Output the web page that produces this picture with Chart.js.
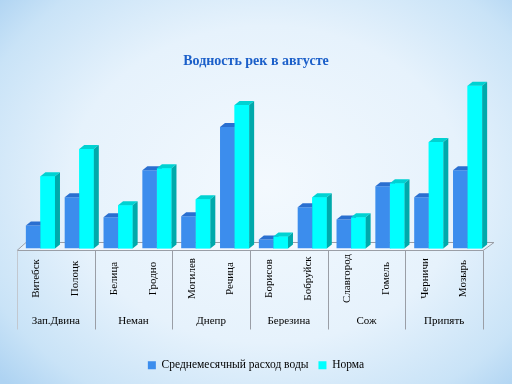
<!DOCTYPE html>
<html>
<head>
<meta charset="utf-8">
<script src="https://cdn.jsdelivr.net/npm/chart.js@4.4.0/dist/chart.umd.min.js"></script>
<style>
  html, body { margin: 0; padding: 0; }
  body {
    width: 512px; height: 384px; overflow: hidden;
    background: radial-gradient(ellipse 70% 75% at 52% 48%, #f3f9fe 0%, #e6f2fc 55%, #c9e3f7 85%, #aed3f2 100%);
  }
  canvas { display: block; }
</style>
</head>
<body>
<canvas id="chart" width="512" height="384"></canvas>
<script>
/* ---------- Данные ---------- */
const GORODA = ["Витебск", "Полоцк", "Белица", "Гродно", "Могилев", "Речица",
  "Борисов", "Бобруйск", "Славгород", "Гомель", "Черничи", "Мозырь"];
const REKI = ["Зап.Двина", "Неман", "Днепр", "Березина", "Сож", "Припять"];
const RASHOD = [23, 51, 31, 78, 32, 121, 9, 41, 29, 62, 51, 78];
const NORMA = [72, 99, 43, 80, 49, 143, 12, 51, 31, 65, 106, 162];

const COR = {
  blue: "#3c8ded",
  blueTop: "#2a6fd0",
  blueSide: "#1f5cbe",
  cyan: "#00ffff",
  cyanTop: "#00d2d2",
  cyanSide: "#00a9ab",
  line: "#9a9ea6",
  lineLight: "#c2c8d0",
  text: "#000000",
  title: "#1b5fc9",
};
const DX = 5, DY = 4; // глубина 3D у баров
const SHIFT = 4;      // бары стоят в глубине пола

/* ---------- 3D-бары ---------- */
function faces(ctx, el, top, side) {
  const l = el.x - el.width / 2, r = el.x + el.width / 2;
  ctx.fillStyle = top;
  ctx.beginPath();
  ctx.moveTo(l, el.y); ctx.lineTo(l + DX, el.y - DY);
  ctx.lineTo(r + DX, el.y - DY); ctx.lineTo(r, el.y);
  ctx.closePath(); ctx.fill();
  ctx.fillStyle = side;
  ctx.beginPath();
  ctx.moveTo(r, el.y); ctx.lineTo(r + DX, el.y - DY);
  ctx.lineTo(r + DX, el.base - DY); ctx.lineTo(r, el.base);
  ctx.closePath(); ctx.fill();
}

const bar3d = {
  id: "bar3d",
  beforeDatasetsDraw(chart) {
    // пол
    const { ctx, chartArea: a } = chart;
    const y = a.bottom + 2;
    const l = a.left - SHIFT, r = a.right - SHIFT;
    ctx.save();
    ctx.fillStyle = "rgba(255,255,255,0.35)";
    ctx.strokeStyle = COR.line;
    ctx.lineWidth = 1;
    ctx.beginPath();
    ctx.moveTo(l, y); ctx.lineTo(l + 9, y - 8);
    ctx.lineTo(r + 11, y - 8); ctx.lineTo(r, y);
    ctx.closePath(); ctx.fill(); ctx.stroke();
    ctx.restore();
  },
  afterDatasetsDraw(chart) {
    const ctx = chart.ctx;
    const m0 = chart.getDatasetMeta(0), m1 = chart.getDatasetMeta(1);
    ctx.save();
    m0.data.forEach((el) => faces(ctx, el, COR.blueTop, COR.blueSide));
    m1.data.forEach((el) => {
      el.draw(ctx);
      faces(ctx, el, COR.cyanTop, COR.cyanSide);
    });
    ctx.restore();
  },
  afterDraw(chart) {
    const { ctx, chartArea: a, scales } = chart;
    const x = scales.x;
    const y0 = a.bottom + 2;
    const px = (i) => x.getPixelForValue(i) - SHIFT;
    ctx.save();
    ctx.lineWidth = 1;
    // границы групп
    const bounds = [a.left - SHIFT];
    for (let g = 1; g < REKI.length; g++) {
      bounds.push((px(g * 2 - 1) + px(g * 2)) / 2);
    }
    bounds.push(a.right - SHIFT);
    bounds.forEach((bx, i) => {
      ctx.strokeStyle = i === 0 ? COR.lineLight : COR.line;
      ctx.beginPath();
      ctx.moveTo(Math.round(bx) + 0.5, y0);
      ctx.lineTo(Math.round(bx) + 0.5, y0 + 79);
      ctx.stroke();
    });
    ctx.fillStyle = COR.text;
    ctx.font = "11px 'Liberation Serif', 'Times New Roman', serif";
    ctx.textAlign = "center";
    ctx.textBaseline = "middle";
    // города (вертикально)
    GORODA.forEach((g, i) => {
      ctx.save();
      ctx.translate(px(i), y0 + 28);
      ctx.rotate(-Math.PI / 2);
      ctx.fillText(g, 0, 0);
      ctx.restore();
    });
    // реки
    REKI.forEach((r, i) => {
      ctx.fillText(r, (bounds[i] + bounds[i + 1]) / 2, y0 + 71);
    });
    ctx.restore();
  },
};

/* ---------- Gráfico ---------- */
function init() {
  const hidden = { grid: { display: false }, ticks: { display: false }, border: { display: false } };
  new Chart(document.getElementById("chart"), {
    type: "bar",
    data: {
      labels: GORODA,
      datasets: [
        { label: "Среднемесячный расход воды", data: RASHOD, backgroundColor: COR.blue, borderWidth: 0 },
        { label: "Норма", data: NORMA, backgroundColor: COR.cyan, borderWidth: 0 },
      ],
    },
    options: {
      responsive: false,
      animation: false,
      layout: { padding: { left: 0, right: 0, top: 0, bottom: 3 } },
      datasets: { bar: { categoryPercentage: 0.75, barPercentage: 1 } },
      plugins: {
        tooltip: { enabled: false },
        title: {
          display: true,
          text: "Водность рек в августе",
          color: COR.title,
          font: { family: "'Liberation Serif', serif", size: 14, weight: "bold" },
          padding: { top: 53, bottom: 8 },
        },
        legend: {
          position: "bottom",
          labels: {
            color: COR.text,
            font: { family: "'Liberation Serif', serif", size: 11.5 },
            boxWidth: 8,
            boxHeight: 8,
            padding: 10,
          },
        },
      },
      scales: {
        x: { ...hidden, afterFit: (s) => { s.height = 101; } },
        y: { ...hidden, min: 0, max: 170, afterFit: (s) => { s.width = 21; } },
        y2: { ...hidden, position: "right", min: 0, max: 170, afterFit: (s) => { s.width = 25; } },
      },
    },
    plugins: [bar3d],
  });
}

document.addEventListener("DOMContentLoaded", init);
</script>
</body>
</html>
